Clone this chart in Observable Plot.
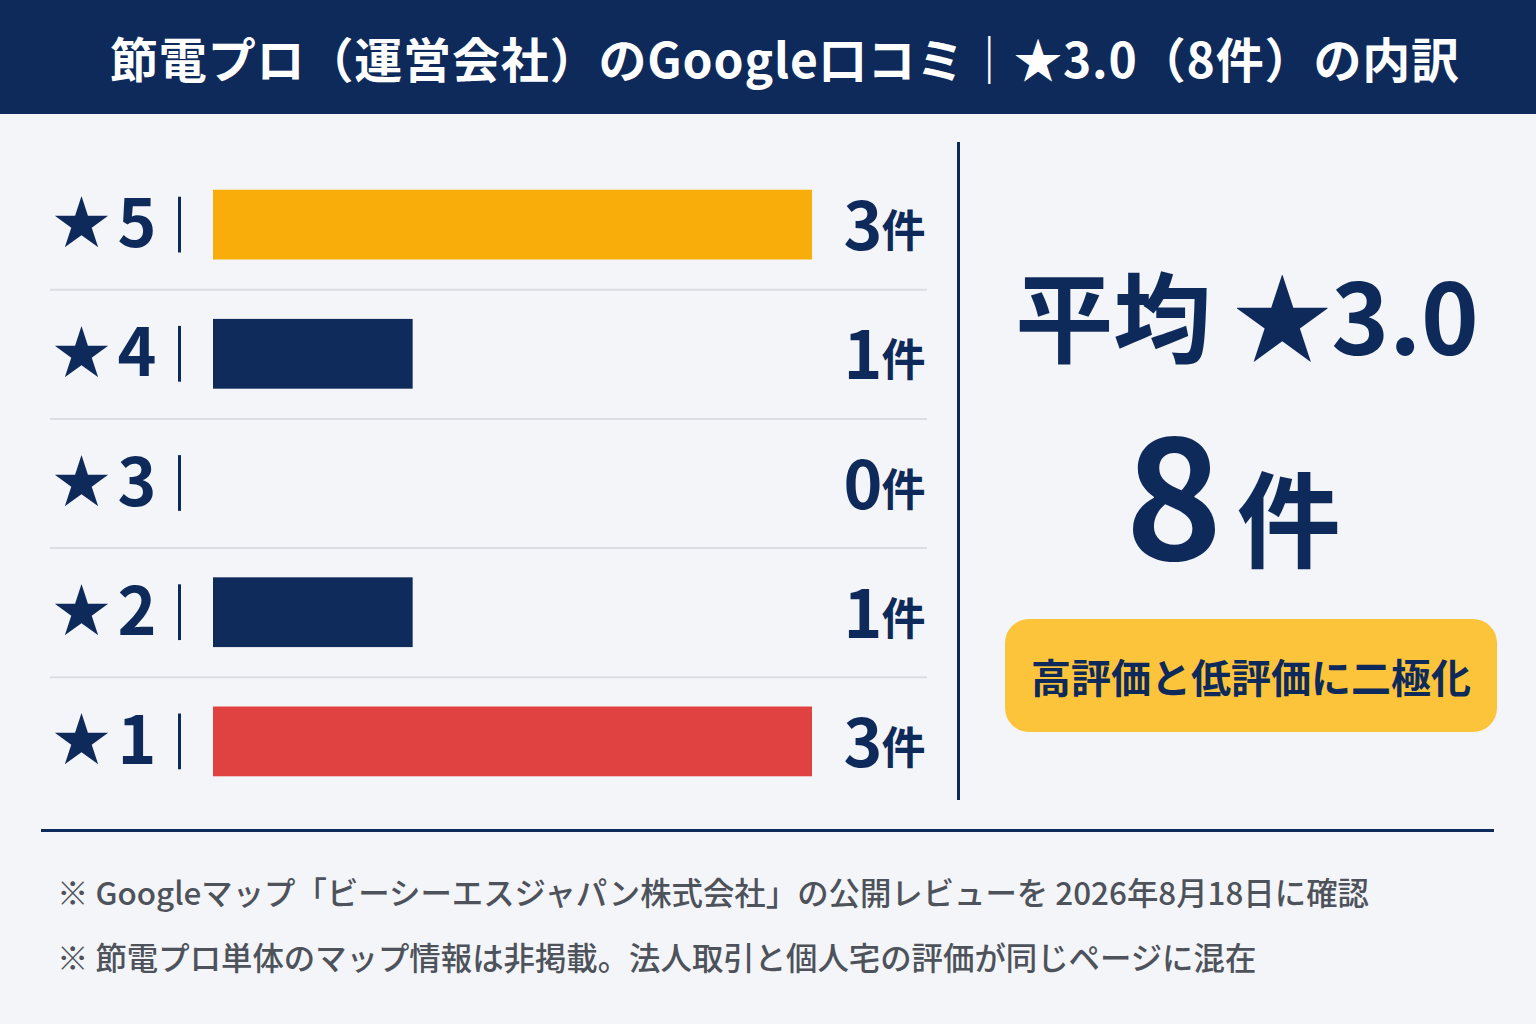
<!DOCTYPE html>
<html lang="ja">
<head>
<meta charset="utf-8">
<script src="https://cdn.jsdelivr.net/npm/d3@7"></script>
<script src="https://cdn.jsdelivr.net/npm/@observablehq/plot@0.6"></script>
<style>
  html, body { margin: 0; padding: 0; background: #f4f5f8; }
  body { font-family: "Noto Sans CJK JP", "Noto Sans", sans-serif; }
  #page { position: relative; width: 1536px; height: 1024px; overflow: hidden; background: #f4f5f8; }
  #header { position: absolute; left: 0; top: 0; width: 1536px; height: 114px; background: #0e2a5b; }
  #title { position: absolute; left: 110px; top: 0; line-height: 114px; color: #fff; font-size: 48px; letter-spacing: 0.85px; font-weight: 700; white-space: nowrap; }
  #chart { position: absolute; left: 0; top: 114px; }
  #vsep { position: absolute; left: 957px; top: 142px; width: 3px; height: 658px; background: #0e2a5b; }
  #hsep { position: absolute; left: 41px; top: 829px; width: 1453px; height: 3px; background: #0e2a5b; }
  #avg { position: absolute; left: 958px; width: 578px; top: 266px; height: 92px; text-align: center; font-size: 98px; line-height: 92px; font-weight: 700; color: #0e2a5b; white-space: nowrap; }
  #count { position: absolute; left: 958px; width: 550px; top: 406px; height: 154px; display: flex; justify-content: center; align-items: baseline; gap: 14px; color: #0e2a5b; font-weight: 700; }
  #count .n { font-size: 165px; line-height: 1; }
  #count .u { font-size: 104px; line-height: 1; }
  #badge { position: absolute; left: 1005px; top: 619px; width: 492px; height: 113px; border-radius: 24px; background: #fcc43a; display: flex; align-items: center; justify-content: center; color: #0e2a5b; font-size: 40px; font-weight: 700; white-space: nowrap; }
  .note { position: absolute; left: 57px; font-size: 31.4px; line-height: 40px; font-weight: 500; color: #4d525b; white-space: nowrap; }
</style>
</head>
<body>
<div id="page">
  <div id="header"><div id="title"></div></div>
  <div id="chart"></div>
  <div id="vsep"></div>
  <div id="avg"></div>
  <div id="count"><span class="n"></span><span class="u"></span></div>
  <div id="badge"></div>
  <div id="hsep"></div>
  <div class="note" id="note1" style="top:872px"></div>
  <div class="note" id="note2" style="top:937px"></div>
</div>
<script>
// ---- data ----
const ratingLabels = ["★5", "★4", "★3", "★2", "★1"];
const starValues = [5, 4, 3, 2, 1];
const reviewCounts = [3, 1, 0, 1, 3];
const barColors = ["#f9ad0a", "#0f2b5c", "#0f2b5c", "#0f2b5c", "#e04141"];
const unitLabel = "件";
const titleText = "節電プロ（運営会社）のGoogle口コミ｜★3.0（8件）の内訳";
const badgeText = "高評価と低評価に二極化";
const notes = [
  "※ Googleマップ「ビーシーエスジャパン株式会社」の公開レビューを 2026年8月18日に確認",
  "※ 節電プロ単体のマップ情報は非掲載。法人取引と個人宅の評価が同じページに混在"
];

const navy = "#0e2a5b";
const font = "'Noto Sans CJK JP', 'Noto Sans', sans-serif";

const data = ratingLabels.map((label, i) => ({
  label, star: starValues[i], count: reviewCounts[i], color: barColors[i]
}));
const total = d3.sum(reviewCounts);
const avg = d3.sum(data, d => d.star * d.count) / total;

document.getElementById("title").textContent = titleText;
document.getElementById("avg").textContent = "平均 ★" + avg.toFixed(1);
document.querySelector("#count .n").textContent = String(total);
document.querySelector("#count .u").textContent = unitLabel;
document.getElementById("badge").textContent = badgeText;
document.getElementById("note1").textContent = notes[0];
document.getElementById("note2").textContent = notes[1];

const chart = Plot.plot({
  width: 1536,
  height: 700,
  marginLeft: 50,
  marginRight: 609,
  marginTop: 0,
  marginBottom: 0,
  style: { background: "transparent", fontFamily: font },
  x: { domain: [0, 3], range: [213, 812], axis: null },
  y: { domain: ratingLabels, range: [46, 692], paddingInner: 0.46, paddingOuter: 0.23, round: false, axis: null },
  color: { type: "identity" },
  marks: [
    Plot.ruleY(data.slice(0, data.length - 1), { y: "label", dy: 64.6, stroke: "#dcdde3", strokeWidth: 2 }),
    Plot.barX(data, { x: "count", y: "label", fill: "color" }),
    Plot.tickX(data, { x: 0, y: "label", dx: -34, stroke: navy, strokeWidth: 3, insetTop: 7, insetBottom: 7 }),
    Plot.text(data, { y: "label", text: d => "★", frameAnchor: "left", textAnchor: "middle", dx: 31, dy: 0, fontSize: 57, fontWeight: 700, fill: navy }),
    Plot.text(data, { y: "label", text: d => String(d.star), frameAnchor: "left", textAnchor: "start", dx: 67, dy: 1, fontSize: 66, fontWeight: 700, fill: navy }),
    Plot.text(data, { y: "label", text: d => String(d.count), frameAnchor: "right", textAnchor: "end", dx: -45, dy: 4, fontSize: 66, fontWeight: 700, fill: navy }),
    Plot.text(data, { y: "label", text: d => unitLabel, frameAnchor: "right", textAnchor: "end", dx: -2, dy: 8, fontSize: 44, fontWeight: 700, fill: navy })
  ]
});
document.getElementById("chart").appendChild(chart);
</script>
</body>
</html>
